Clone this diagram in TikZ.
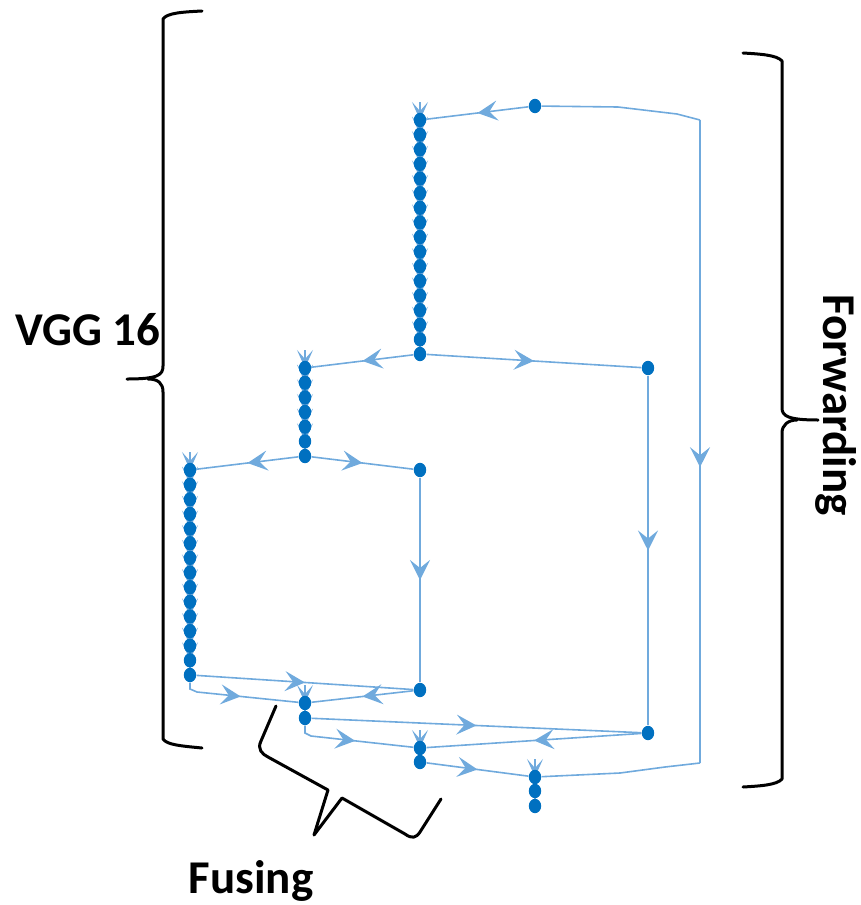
\documentclass[tikz,border=0pt]{standalone}
\usepackage{fontspec}
\setmainfont{Carlito}
\usetikzlibrary{shapes.geometric, arrows.meta, decorations.markings, backgrounds}
\definecolor{dotblue}{HTML}{0070C0}
\definecolor{linkblue}{HTML}{70AADD}
\tikzset{
  dot/.style={ellipse, fill=dotblue, draw=none, minimum width=6.2pt, minimum height=7.2pt, inner sep=0pt},
  link/.style={draw=linkblue, line width=0.8pt},
  midlink/.style={link, postaction={decorate}, decoration={markings,
    mark=at position #1 with {\arrow{Stealth[length=10pt, width=10pt, inset=4pt, color=linkblue]}}}},
  midlink/.default=0.5,
  vhead/.pic={\draw[link, -{Stealth[length=9pt, width=8pt, inset=4.5pt, color=linkblue]}] (0,-18) -- (0,0);},
  bracket/.style={draw=black, line width=1.5pt, line cap=round, line join=round},
  bracetext/.style={font=\fontsize{23.5}{28}\selectfont\bfseries, inner sep=0pt}
}

\begin{document}
\begin{tikzpicture}[x=0.5pt, y=-0.5pt]
  \useasboundingbox (0,0) rectangle (861,905);

  % VGG 16 columns
  \foreach \i in {1,...,17}
    \node[dot] (a\i) at (420,{120+(\i-1)*14.625}) {};
  \foreach \i in {1,...,7}
    \node[dot] (b\i) at (305,{368+(\i-1)*14.67}) {};
  \foreach \i in {1,...,15}
    \node[dot] (c\i) at (190,{470+(\i-1)*14.64}) {};

  % side outputs
  \node[dot] (top) at (535,106) {};
  \node[dot] (r1) at (648,368) {};
  \node[dot] (r2) at (420,470) {};
  \node[dot] (r3) at (420,690) {};
  \node[dot] (r4) at (648,733) {};

  % fusing
  \node[dot] (f1) at (305,703) {};
  \node[dot] (f2) at (305,718) {};
  \node[dot] (g1) at (420,748) {};
  \node[dot] (g2) at (420,762) {};
  \node[dot] (h1) at (535,777) {};
  \node[dot] (h2) at (535,791) {};
  \node[dot] (h3) at (535,806) {};
  \coordinate (fw1) at (700,120);
  \coordinate (fw2) at (700,763);

  \begin{pgfonlayer}{background}
    \foreach \i [count=\j from 2] in {1,...,16} {
      \draw[link] (a\i) -- (a\j);
      \pic at (a\i) {vhead};
    }
    \foreach \i [count=\j from 2] in {1,...,6} {
      \draw[link] (b\i) -- (b\j);
      \pic at (b\i) {vhead};
    }
    \foreach \i [count=\j from 2] in {1,...,14} {
      \draw[link] (c\i) -- (c\j);
      \pic at (c\i) {vhead};
    }
    \foreach \n in {f1, g1, h1}
      \pic at (\n) {vhead};

    \draw[midlink] (top) -- (a1);
    \draw[link] (top) -- (618,107) -- (677,114) -- (fw1);
    \draw[midlink=0.54] (fw1) -- (fw2);
    \draw[link] (fw2) -- (665,767) -- (620,773) -- (h1);

    \draw[midlink] (a17) -- (b1);
    \draw[midlink] (a17) -- (r1);
    \draw[midlink] (r1) -- (r4);
    \draw[midlink] (b7) -- (c1);
    \draw[midlink] (b7) -- (r2);
    \draw[midlink] (r2) -- (r3);

    \draw[midlink] (c15) -- (r3);
    \draw[midlink] (c15) -- (190,689) -- (197,692) -- (f1);
    \draw[midlink] (r3) -- (f1);
    \draw[link] (f1) -- (f2);
    \draw[midlink] (f2) -- (r4);
    \draw[midlink] (f2) -- (305,733) -- (311,736) -- (g1);
    \draw[midlink] (r4) -- (g1);
    \draw[link] (g1) -- (g2);
    \draw[midlink] (g2) -- (h1);
    \draw[link] (h1) -- (h2);
    \draw[link] (h2) -- (h3);
  \end{pgfonlayer}

  % braces
  \draw[bracket] (202,11) .. controls (182,12) and (167,13) .. (163,19) -- (163,366)
    .. controls (163,375) and (158,379) .. (127,379);
  \draw[bracket] (148,379) .. controls (158,379) and (163,383) .. (163,392) -- (163,739)
    .. controls (167,745) and (182,746) .. (202,748);
  \draw[bracket] (743,53) .. controls (760,54) and (777,55) .. (782,61) -- (782,408)
    .. controls (782,416) and (788,420) .. (818,420);
  \draw[bracket] (797,420) .. controls (788,420) and (782,425) .. (782,433) -- (782,779)
    .. controls (777,785) and (760,786) .. (743,787);
  \draw[bracket] (276,706) -- (261,741) .. controls (257,749) and (262,754) .. (268,757)
    -- (328,790) -- (314,835) -- (342,798) -- (405,834)
    .. controls (412,839) and (416,838) .. (420,832) -- (441,799);

  \node[bracetext, anchor=base] (vgg) at (88,345) {VGG 16};
  \node[bracetext, anchor=base, rotate=-90] (fwd) at (823,405) {Forwarding};
  \node[bracetext, anchor=base] (fus) at (251,893) {Fusing};
\end{tikzpicture}
\end{document}
